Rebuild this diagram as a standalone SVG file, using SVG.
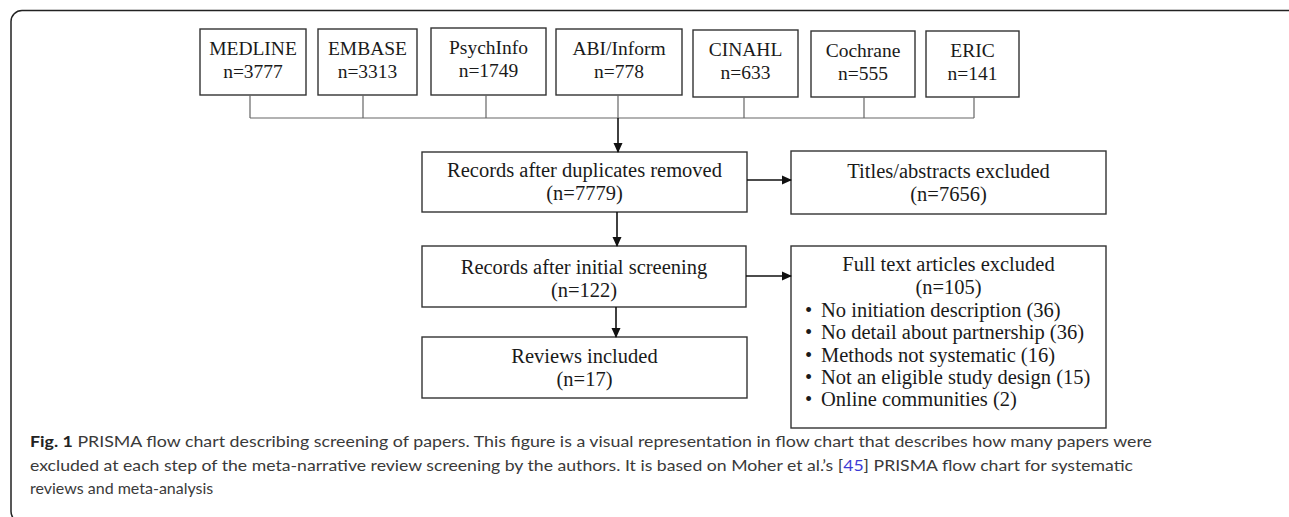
<svg xmlns="http://www.w3.org/2000/svg" width="1289" height="517" viewBox="0 0 1289 517">
<defs>
<marker id="ah" markerWidth="10" markerHeight="10" refX="9" refY="5" orient="auto" markerUnits="userSpaceOnUse">
<path d="M0,0.5 L10,5 L0,9.5 Z" fill="#111"/>
</marker>
<style>
.box{fill:#fff;stroke:#333;stroke-width:1.4}
.t{font-family:"Liberation Serif","Times New Roman",serif;font-size:20.5px;fill:#1a1a1a;text-anchor:middle}
.s{font-size:19.5px}
.tl{font-family:"Liberation Serif","Times New Roman",serif;font-size:20.5px;fill:#1a1a1a;text-anchor:start}
.src{stroke:#666;stroke-width:1.2;fill:none}
.arr{stroke:#111;stroke-width:1.6;fill:none;marker-end:url(#ah)}
.cap{font-family:Lato,"Liberation Sans",sans-serif;font-size:16px;fill:#3a3a3a}
.frame{fill:none;stroke:#222;stroke-width:1.5}
</style>
</defs>
<rect class="frame" x="11" y="10.5" width="1290" height="512" rx="11"/>

<g id="medline"><rect class="box" x="200" y="29" width="106" height="66"/><text class="t s" x="253" y="55">MEDLINE</text><text class="t s" x="253" y="78">n=3777</text></g>
<g id="embase"><rect class="box" x="318" y="29" width="99" height="66"/><text class="t s" x="367.5" y="55">EMBASE</text><text class="t s" x="367.5" y="78">n=3313</text></g>
<g id="psychinfo"><rect class="box" x="431" y="28" width="115" height="67"/><text class="t s" x="488.5" y="54">PsychInfo</text><text class="t s" x="488.5" y="77">n=1749</text></g>
<g id="abi"><rect class="box" x="556" y="29" width="126" height="66"/><text class="t s" x="619" y="55">ABI/Inform</text><text class="t s" x="619" y="78">n=778</text></g>
<g id="cinahl"><rect class="box" x="693" y="30" width="105" height="67"/><text class="t s" x="745.5" y="56">CINAHL</text><text class="t s" x="745.5" y="79">n=633</text></g>
<g id="cochrane"><rect class="box" x="811" y="31" width="104" height="66"/><text class="t s" x="863" y="57">Cochrane</text><text class="t s" x="863" y="80">n=555</text></g>
<g id="eric"><rect class="box" x="926" y="31" width="93" height="66"/><text class="t s" x="972.5" y="57">ERIC</text><text class="t s" x="972.5" y="80">n=141</text></g>

<g id="dup"><rect class="box" x="422" y="152" width="325" height="60"/><text class="t" x="584.5" y="177">Records after duplicates removed</text><text class="t" x="584.5" y="200">(n=7779)</text></g>
<g id="titles"><rect class="box" x="791" y="151" width="315" height="63"/><text class="t" x="948.5" y="178">Titles/abstracts excluded</text><text class="t" x="948.5" y="201">(n=7656)</text></g>
<g id="initial"><rect class="box" x="422" y="246" width="324" height="61"/><text class="t" x="584" y="274">Records after initial screening</text><text class="t" x="584" y="297">(n=122)</text></g>
<g id="fulltext"><rect class="box" x="791" y="246" width="315" height="182"/>
<text class="t" x="948.5" y="271">Full text articles excluded</text>
<text class="t" x="948.5" y="294">(n=105)</text>
<text class="tl" x="805" y="317">•</text><text class="tl" x="821" y="317">No initiation description (36)</text>
<text class="tl" x="805" y="339">•</text><text class="tl" x="821" y="339">No detail about partnership (36)</text>
<text class="tl" x="805" y="362">•</text><text class="tl" x="821" y="362">Methods not systematic (16)</text>
<text class="tl" x="805" y="384">•</text><text class="tl" x="821" y="384">Not an eligible study design (15)</text>
<text class="tl" x="805" y="406">•</text><text class="tl" x="821" y="406">Online communities (2)</text>
</g>
<g id="reviews"><rect class="box" x="422" y="337" width="325" height="61"/><text class="t" x="584.5" y="363">Reviews included</text><text class="t" x="584.5" y="386">(n=17)</text></g>

<g id="connectors">
<path class="src" d="M250,95 V118 M363,95 V118 M486,95 V118 M618,95 V118 M744,97 V118 M864,97 V118 M974,97 V118 M250,118 H974"/>
<line class="arr" x1="618" y1="118" x2="618" y2="152"/>
<line class="arr" x1="747" y1="180" x2="791" y2="180"/>
<line class="arr" x1="617" y1="212" x2="617" y2="246"/>
<line class="arr" x1="746" y1="276" x2="791" y2="276"/>
<line class="arr" x1="616" y1="307" x2="616" y2="337"/>
</g>

<g id="caption">
<text class="cap" x="30" y="447" textLength="1122" lengthAdjust="spacingAndGlyphs"><tspan font-weight="bold" fill="#222">Fig. 1</tspan> PRISMA flow chart describing screening of papers. This figure is a visual representation in flow chart that describes how many papers were</text>
<text class="cap" x="30" y="471" textLength="1103" lengthAdjust="spacingAndGlyphs">excluded at each step of the meta-narrative review screening by the authors. It is based on Moher et al.’s [<tspan fill="#3b3bd6">45</tspan>] PRISMA flow chart for systematic</text>
<text class="cap" x="30" y="494">reviews and meta-analysis</text>
</g>
</svg>
